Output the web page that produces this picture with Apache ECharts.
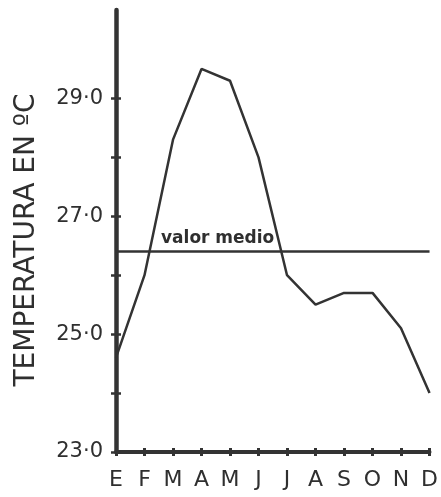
<!DOCTYPE html>
<html>
<head>
<meta charset="utf-8">
<script src="https://cdn.jsdelivr.net/npm/echarts@6/dist/echarts.min.js"></script>
<style>
  html, body { margin: 0; padding: 0; background: #fff; }
  #chart { width: 441px; height: 497px; }
</style>
</head>
<body>
<div id="chart"></div>
<script>
// Monthly mean temperature (°C), January (E) to December (D)
var months = ['E', 'F', 'M', 'A', 'M', 'J', 'J', 'A', 'S', 'O', 'N', 'D'];
var temperatures = [24.6, 26.0, 28.3, 29.5, 29.3, 28.0, 26.0, 25.5, 25.7, 25.7, 25.1, 24.0];
var meanValue = 26.4;
var meanLabel = 'valor medio';
var yTickValues = [23, 24, 25, 26, 27, 28, 29];
var yLabelValues = [23, 25, 27, 29];
var yAxisName = 'TEMPERATURA EN ºC';

var ink = '#333333';
var textInk = '#2f2f2f';
var font = 'DejaVu Sans';

var chart = echarts.init(document.getElementById('chart'), null, { renderer: 'canvas' });

function fmt(v) {
  return Number(v).toFixed(1).replace('.', '·');
}

chart.setOption({
  backgroundColor: '#ffffff',
  animation: false,
  grid: { left: 116, right: 8, top: 10, bottom: 45, containLabel: false },
  xAxis: [
    {
      type: 'category',
      data: months,
      boundaryGap: false,
      axisLine: { show: true, lineStyle: { color: ink, width: 4 } },
      axisTick: { show: true, inside: false, length: 4, lineStyle: { color: ink, width: 3 } },
      axisLabel: { color: textInk, fontFamily: font, fontSize: 22, margin: 17, interval: 0 },
      splitLine: { show: false }
    },
    {
      type: 'category',
      data: months,
      boundaryGap: false,
      position: 'bottom',
      axisLine: { show: false },
      axisTick: { show: true, inside: true, length: 4, lineStyle: { color: ink, width: 3 } },
      axisLabel: { show: false },
      splitLine: { show: false }
    }
  ],
  yAxis: [
    {
      type: 'value',
      min: 23,
      max: 30.5,
      axisLine: { show: true, lineStyle: { color: ink, width: 4.5 } },
      axisTick: { show: true, inside: false, length: 5, customValues: yTickValues, lineStyle: { color: ink, width: 2.5 } },
      axisLabel: {
        color: textInk, fontFamily: font, fontSize: 21, margin: 13,
        customValues: yLabelValues, formatter: fmt
      },
      splitLine: { show: false },
      name: yAxisName,
      nameLocation: 'middle',
      nameGap: 75,
      nameTextStyle: { color: textInk, fontFamily: font, fontSize: 28, padding: [0, 18, 0, 0] }
    },
    {
      type: 'value',
      min: 23,
      max: 30.5,
      position: 'left',
      axisLine: { show: false },
      axisTick: { show: true, inside: true, length: 5, customValues: yTickValues, lineStyle: { color: ink, width: 2.5 } },
      axisLabel: { show: false },
      splitLine: { show: false }
    }
  ],
  series: [
    {
      type: 'line',
      data: temperatures,
      xAxisIndex: 0,
      yAxisIndex: 0,
      symbol: 'none',
      lineStyle: { color: ink, width: 2.5 },
      markLine: {
        silent: true,
        symbol: 'none',
        lineStyle: { color: ink, width: 2.5, type: 'solid' },
        label: {
          show: true,
          position: 'insideStartTop',
          formatter: meanLabel,
          color: textInk,
          fontFamily: font,
          fontWeight: 'bold',
          fontSize: 17,
          padding: [0, 0, 0, 40]
        },
        data: [{ yAxis: meanValue }]
      }
    }
  ]
});
</script>
</body>
</html>
